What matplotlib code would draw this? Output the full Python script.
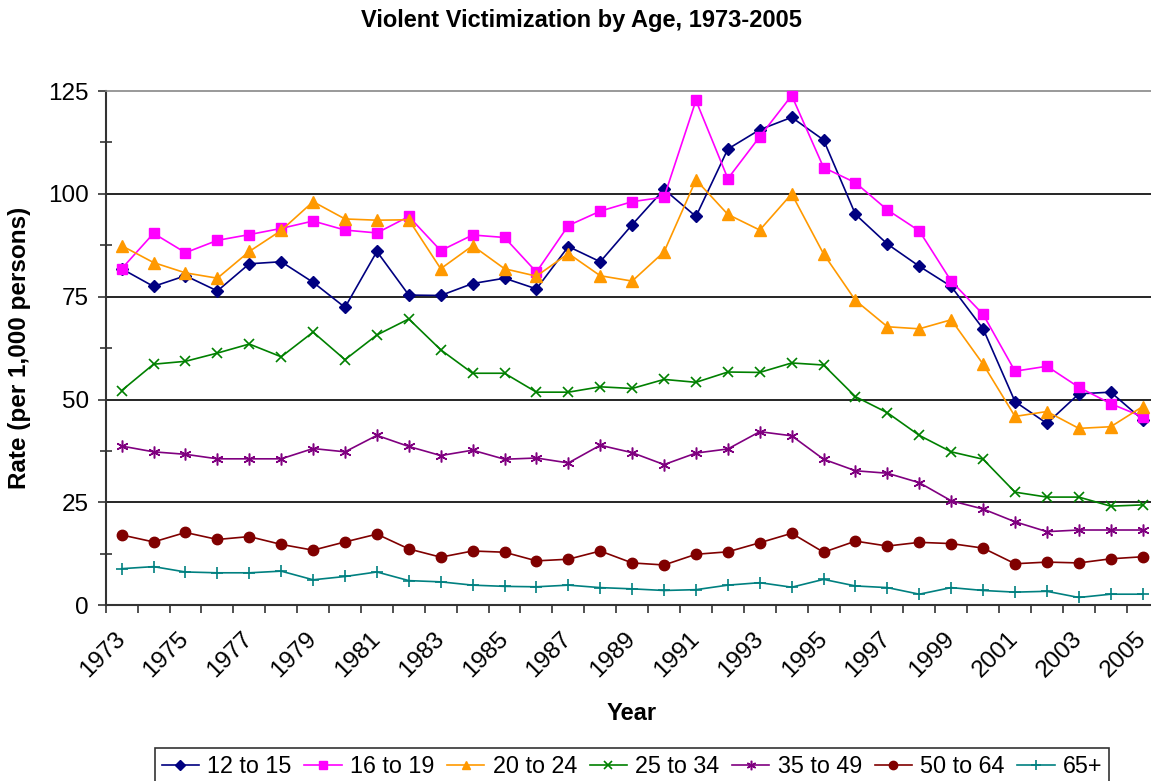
import numpy as np
import matplotlib
matplotlib.use("Agg")
import matplotlib.pyplot as plt
from matplotlib.ticker import MultipleLocator

plt.rcParams['font.family'] = ['Liberation Sans', 'DejaVu Sans']

years = list(range(1973, 2006))

age_12_15 = [81.8, 77.5, 80.1, 76.4, 83.0, 83.5, 78.5, 72.4, 86.0, 75.4,
             75.3, 78.2, 79.5, 76.9, 87.2, 83.5, 92.5, 101.1, 94.5, 110.9,
             115.6, 118.6, 113.1, 95.0, 87.8, 82.4, 77.5, 67.2, 49.5, 44.2,
             51.4, 51.8, 45.1]
age_16_19 = [81.8, 90.4, 85.7, 88.7, 90.1, 91.6, 93.4, 91.2, 90.5, 94.5,
             86.2, 90.0, 89.4, 81.0, 92.3, 95.8, 98.1, 99.2, 122.7, 103.7,
             113.9, 123.9, 106.4, 102.7, 96.1, 91.0, 78.8, 70.7, 56.9, 58.1,
             53.0, 49.0, 45.8]
age_20_24 = [87.4, 83.3, 80.8, 79.5, 86.0, 91.1, 98.1, 93.9, 93.6, 93.7,
             81.8, 87.4, 81.8, 80.0, 85.5, 80.1, 78.8, 85.9, 103.4, 95.0,
             91.2, 100.0, 85.4, 74.1, 67.7, 67.2, 69.4, 58.6, 45.9, 47.1,
             43.0, 43.4, 48.3]
age_25_34 = [52.2, 58.6, 59.3, 61.3, 63.5, 60.4, 66.4, 59.7, 65.7, 69.6,
             62.1, 56.4, 56.4, 51.8, 51.8, 53.1, 52.7, 54.9, 54.2, 56.7,
             56.6, 58.9, 58.4, 50.7, 46.8, 41.3, 37.3, 35.5, 27.5, 26.3,
             26.3, 24.1, 24.4]
age_35_49 = [38.7, 37.3, 36.7, 35.6, 35.6, 35.6, 38.1, 37.3, 41.3, 38.6,
             36.4, 37.7, 35.5, 35.8, 34.6, 38.9, 37.1, 34.2, 37.0, 38.0,
             42.2, 41.2, 35.5, 32.7, 32.1, 29.8, 25.4, 23.4, 20.3, 17.9,
             18.3, 18.3, 18.3]
age_50_64 = [17.1, 15.4, 17.7, 16.0, 16.7, 14.8, 13.4, 15.4, 17.3, 13.7,
             11.7, 13.2, 12.9, 10.8, 11.2, 13.2, 10.3, 9.8, 12.4, 13.0,
             15.2, 17.5, 12.9, 15.6, 14.4, 15.3, 15.0, 13.9, 10.1, 10.5,
             10.3, 11.3, 11.8]
age_65_plus = [8.9, 9.4, 8.1, 7.9, 7.9, 8.3, 6.2, 7.0, 8.1, 6.0,
               5.7, 4.9, 4.6, 4.5, 4.9, 4.3, 4.0, 3.6, 3.8, 4.9,
               5.5, 4.4, 6.3, 4.7, 4.3, 2.7, 4.3, 3.6, 3.2, 3.4,
               1.9, 2.7, 2.7]

series_labels = ['12 to 15', '16 to 19', '20 to 24', '25 to 34', '35 to 49', '50 to 64', '65+']
series_values = [age_12_15, age_16_19, age_20_24, age_25_34, age_35_49, age_50_64, age_65_plus]
colors = ['#000080', '#FF00FF', '#FF9900', '#008000', '#800080', '#800000', '#008080']
markers = ['D', 's', '^', 'x', (6, 2, 0), 'o', '+']
msizes = [6, 7, 8, 7.5, 8.5, 7.5, 8.5]
mews = [1, 1, 1, 1.2, 1.1, 1, 1.2]

W, H = 1151, 781
fig = plt.figure(figsize=(W / 100, H / 100), dpi=100)
left, right, top, bottom = 105.7, 1158.6, 91.0, 605.3
ax = fig.add_axes([left / W, (H - bottom) / H, (right - left) / W, (bottom - top) / H])

for lab, vals, c, m, ms, mw in zip(series_labels, series_values, colors, markers, msizes, mews):
    ax.plot(years, vals, color=c, marker=m, markersize=ms, markeredgewidth=mw,
            markerfacecolor=c, markeredgecolor=c, linewidth=1.2, label=lab,
            clip_on=False, zorder=3)

ax.set_xlim(1972.5, 2005.5)
ax.set_ylim(0, 125)

ax.set_yticks([0, 25, 50, 75, 100, 125])
ax.yaxis.set_minor_locator(MultipleLocator(12.5))
ax.tick_params(axis='y', which='major', direction='out', length=5.5, width=1.2,
               labelsize=17.5, pad=6.5, color='#333333')
ax.tick_params(axis='y', which='minor', direction='inout', length=8.5, width=1.2,
               color='#333333')

ax.set_xticks(years[::2])
ax.set_xticklabels([str(y) for y in years[::2]])
ax.set_xticks(np.arange(1972.5, 2006, 1.0), minor=True)
ax.tick_params(axis='x', which='major', length=0, labelsize=17.5, pad=22)
ax.tick_params(axis='x', which='minor', direction='out', length=6, width=1.2, color='#333333')
for t in ax.get_xticklabels():
    t.set_rotation(45)
    t.set_rotation_mode('anchor')
    t.set_ha('right')
    t.set_va('center')

for v in [25, 50, 75, 100]:
    ax.axhline(v, color='black', linewidth=1.2, zorder=1)

for s in ['left', 'bottom']:
    ax.spines[s].set_color('#333333')
    ax.spines[s].set_linewidth(1.5)
ax.spines['top'].set_color('#888888')
ax.spines['top'].set_linewidth(1.2)
ax.spines['right'].set_visible(False)

fig.text(632 / W, (H - 713) / H, 'Year', fontsize=17, fontweight='bold',
         ha='center', va='center')
fig.text(20 / W, (H - 348) / H, 'Rate (per 1,000 persons)', rotation=90,
         fontsize=17.5, fontweight='bold', ha='center', va='center')
fig.text(581 / W, (H - 21) / H, 'Violent Victimization by Age, 1973-2005',
         fontsize=17, fontweight='bold', ha='center', va='center')

leg = fig.legend(loc='upper center', bbox_to_anchor=(632 / W, (H - 748) / H), ncol=7,
                 fontsize=16.8, frameon=True, fancybox=False, edgecolor='black',
                 handlelength=1.6, handletextpad=0.35, columnspacing=0.55,
                 borderpad=0.3, borderaxespad=0)
leg.get_frame().set_linewidth(1.2)
for h in leg.legend_handles:
    h.set_markersize(h.get_markersize() * 0.8)

fig.savefig('out.png', dpi=100)
